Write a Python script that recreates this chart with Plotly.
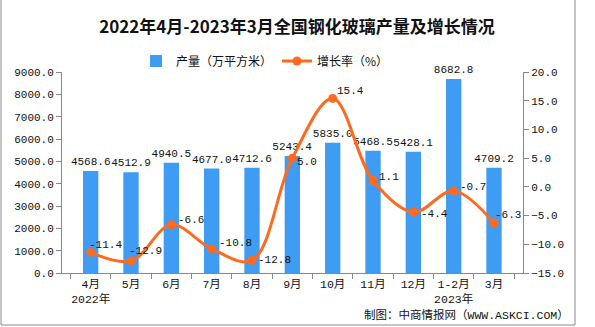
import plotly.graph_objects as go

months = ["4月", "5月", "6月", "7月", "8月", "9月", "10月", "11月", "12月", "1-2月", "3月"]
tick_labels = ["4月<br>2022年", "5月", "6月", "7月", "8月", "9月", "10月", "11月", "12月", "1-2月<br>2023年", "3月"]
output = [4568.6, 4512.9, 4940.5, 4677.0, 4712.6, 5243.4, 5835.0, 5468.5, 5428.1, 8682.8, 4709.2]
growth = [-11.4, -12.9, -6.6, -10.8, -12.8, 5.0, 15.4, 1.1, -4.4, -0.7, -6.3]

W, H = 595, 327
L, R, T, B = 62, 72, 72, 54
PW, PH = W - L - R, H - T - B

def px(x):
    return (x - L) / PW

def py(y):
    return (H - B - y) / PH

MONO = "Liberation Mono, Noto Sans CJK SC, monospace"
CJK = "Noto Sans CJK SC, Liberation Mono, sans-serif"
BLUE = "#3E9CF2"
ORANGE = "#FF6A1F"

fig = go.Figure()
fig.add_trace(go.Bar(
    x=months, y=output, name="产量（万平方米）",
    marker=dict(color=BLUE, line=dict(width=0)),
    width=0.38,
    text=[f"{v:.1f}" for v in output], textposition="outside",
    constraintext="none",
    textfont=dict(family=MONO, size=11, color="#111"),
    cliponaxis=False,
))
fig.add_trace(go.Scatter(
    x=months, y=growth, name="增长率（%）", yaxis="y2",
    mode="lines+markers",
    line=dict(color=ORANGE, width=3, shape="spline", smoothing=1.0),
    marker=dict(color=ORANGE, size=9),
    cliponaxis=False,
))

# growth-rate data labels (label offsets in pixels relative to each point)
label_dx = [-4, -4, 5, 5, 4, 3, 2, 4, 6, 4, -1]
label_dy = [7, 10, 5, 6, 0, -4, 7, 4, -2, 4, 8]
for m, g, dx, dy in zip(months, growth, label_dx, label_dy):
    fig.add_annotation(x=m, y=g, xref="x", yref="y2", text=f"{g:.1f}",
                       showarrow=False, xanchor="left", yanchor="middle",
                       xshift=dx, yshift=dy,
                       font=dict(family=MONO, size=11, color="#111"))

fig.update_layout(
    width=W, height=H,
    margin=dict(l=L, r=R, t=T, b=B),
    paper_bgcolor="white", plot_bgcolor="white",
    title=dict(text="<b>2022年4月-2023年3月全国钢化玻璃产量及增长情况</b>",
               x=px(297), xref="paper", xanchor="center",
               y=1 - 27 / H, yanchor="middle",
               font=dict(family=CJK, size=17, color="#111")),
    showlegend=True,
    legend=dict(orientation="h", x=px(136), xanchor="left", y=py(61), yanchor="middle",
                font=dict(family=CJK, size=12, color="#111"),
                bgcolor="rgba(0,0,0,0)", itemwidth=30, tracegroupgap=0),
    xaxis=dict(
        type="category", tickmode="array", tickvals=months, ticktext=tick_labels,
        tickangle=0,
        showline=True, linecolor="#888", linewidth=1,
        ticks="outside", ticklen=5, tickcolor="#888", tickson="boundaries",
        tickfont=dict(family=MONO, size=11.5, color="#111"),
        showgrid=False,
    ),
    yaxis=dict(
        range=[0, 9000], dtick=1000, tickformat=".1f",
        showline=True, linecolor="#888", linewidth=1,
        ticks="outside", ticklen=5, tickcolor="#888",
        tickfont=dict(family=MONO, size=11, color="#111"),
        showgrid=False, zeroline=False,
    ),
    yaxis2=dict(
        range=[-15, 20], dtick=5, tickformat=".1f", overlaying="y", side="right",
        showline=True, linecolor="#888", linewidth=1,
        ticks="outside", ticklen=5, tickcolor="#888",
        tickfont=dict(family=MONO, size=11, color="#111"),
        showgrid=False, zeroline=False,
    ),
)

fig.add_annotation(text="制图：中商情报网（WWW.ASKCI.COM）", xref="paper", yref="paper",
                   x=px(571), y=py(315), xanchor="right", yanchor="middle", showarrow=False,
                   font=dict(family=MONO, size=11.5, color="#111"))

# outer frame
for x0, y0, x1, y1 in [(1, 0, 1, 325), (575, 0, 575, 325), (1, 325, 575, 325)]:
    fig.add_shape(type="line", xref="paper", yref="paper",
                  x0=px(x0), y0=py(y0), x1=px(x1), y1=py(y1),
                  line=dict(color="#8a8a8a", width=1))

fig.write_html("out.html")
